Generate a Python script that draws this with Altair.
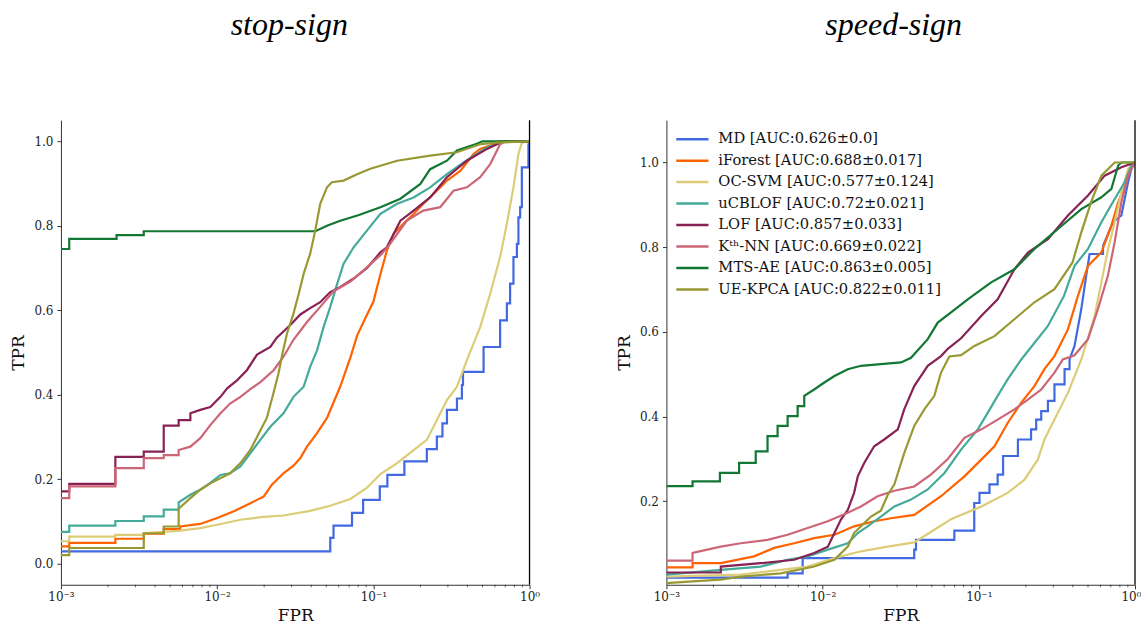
import altair as alt
import pandas as pd

METHODS = [
    "MD [AUC:0.626±0.0]",
    "iForest [AUC:0.688±0.017]",
    "OC-SVM [AUC:0.577±0.124]",
    "uCBLOF [AUC:0.72±0.021]",
    "LOF [AUC:0.857±0.033]",
    "Kᵗʰ-NN [AUC:0.669±0.022]",
    "MTS-AE [AUC:0.863±0.005]",
    "UE-KPCA [AUC:0.822±0.011]",
]
COLORS = ["#4169e1", "#ff6200", "#ddcc77", "#44aa99", "#882255", "#cc6677", "#117733", "#999933"]

# ---------------- stop-sign (FPR, TPR) ----------------
STOP_MD = [(0.001,0.029),(0.053,0.029),(0.053,0.061),(0.0556,0.061),(0.0556,0.09),(0.073,0.09),(0.073,0.12),
           (0.086,0.12),(0.086,0.151),(0.11,0.151),(0.11,0.183),(0.123,0.183),(0.123,0.21),(0.158,0.21),
           (0.158,0.242),(0.22,0.242),(0.22,0.271),(0.255,0.271),(0.255,0.301),(0.277,0.301),(0.277,0.332),
           (0.296,0.332),(0.296,0.364),(0.343,0.364),(0.343,0.391),(0.369,0.391),(0.369,0.423),(0.375,0.423),
           (0.375,0.454),(0.508,0.454),(0.508,0.513),(0.648,0.513),(0.648,0.576),(0.716,0.576),(0.716,0.616),
           (0.751,0.616),(0.751,0.663),(0.789,0.663),(0.789,0.726),(0.83,0.726),(0.83,0.757),(0.849,0.757),
           (0.849,0.82),(0.871,0.82),(0.871,0.844),(0.893,0.844),(0.893,0.938),(0.984,0.938),(0.984,0.993),
           (1.0,0.993),(1.0,1.0)]
STOP_IFOREST = [(0.001,0.041),(0.00113,0.041),(0.00113,0.049),(0.00223,0.049),(0.00223,0.059),(0.00339,0.059),
                (0.00339,0.071),(0.00455,0.071),(0.00455,0.082),(0.0058,0.082),(0.0058,0.088),(0.0078,0.094),
                (0.01,0.108),(0.0128,0.124),(0.0163,0.143),(0.0199,0.159),(0.0224,0.187),(0.0266,0.214),
                (0.0308,0.232),(0.0341,0.25),(0.0376,0.277),(0.0436,0.309),(0.0505,0.345),(0.0557,0.382),
                (0.0615,0.42),(0.0679,0.466),(0.0713,0.488),(0.0787,0.54),(0.0912,0.59),(0.1,0.62),(0.111,0.685),
                (0.122,0.741),(0.135,0.781),(0.156,0.805),(0.181,0.828),(0.209,0.852),(0.255,0.883),(0.296,0.907),
                (0.36,0.93),(0.438,0.97),(0.483,0.982),(0.588,0.993),(0.648,1.0),(1.0,1.0)]
STOP_OCSVM = [(0.001,0.053),(0.00113,0.053),(0.00113,0.064),(0.00223,0.064),(0.00223,0.068),(0.00339,0.068),
              (0.00339,0.072),(0.0058,0.078),(0.0078,0.084),(0.01,0.092),(0.0141,0.104),(0.019,0.11),
              (0.0266,0.114),(0.0394,0.125),(0.053,0.137),(0.0713,0.153),(0.0912,0.18),(0.111,0.212),
              (0.142,0.238),(0.181,0.269),(0.22,0.293),(0.255,0.34),(0.296,0.387),(0.343,0.419),(0.369,0.45),
              (0.397,0.482),(0.483,0.56),(0.56,0.639),(0.648,0.726),(0.716,0.805),(0.789,0.891),(0.849,0.97),
              (0.893,0.997),(1.0,1.0)]
STOP_UCBLOF = [(0.001,0.075),(0.00113,0.075),(0.00113,0.09),(0.00223,0.09),(0.00223,0.101),(0.00339,0.101),
               (0.00339,0.112),(0.00455,0.112),(0.00455,0.128),(0.00567,0.128),(0.00567,0.145),(0.00674,0.163),
               (0.0078,0.175),(0.00904,0.191),(0.0105,0.21),(0.0121,0.214),(0.0141,0.23),(0.0163,0.261),
               (0.0189,0.293),(0.0219,0.324),(0.0266,0.356),(0.0308,0.395),(0.0358,0.419),(0.0394,0.466),
               (0.0436,0.505),(0.048,0.56),(0.053,0.608),(0.0584,0.66),(0.0645,0.71),(0.0748,0.749),
               (0.0912,0.789),(0.111,0.828),(0.142,0.852),(0.181,0.867),(0.231,0.891),(0.296,0.922),
               (0.378,0.95),(0.534,0.985),(0.618,0.993),(0.698,1.0),(1.0,1.0)]
STOP_LOF = [(0.001,0.171),(0.00113,0.171),(0.00113,0.189),(0.00223,0.189),(0.00223,0.253),(0.00339,0.253),
            (0.00339,0.265),(0.00455,0.265),(0.00455,0.327),(0.00567,0.327),(0.00567,0.34),(0.00674,0.34),
            (0.00674,0.356),(0.0078,0.364),(0.00904,0.371),(0.0105,0.395),(0.0116,0.415),(0.0134,0.434),
            (0.0155,0.458),(0.018,0.495),(0.0219,0.513),(0.0241,0.535),(0.0294,0.565),(0.0341,0.59),
            (0.0394,0.605),(0.0457,0.619),(0.053,0.643),(0.0615,0.655),(0.0748,0.675),(0.0912,0.7),
            (0.111,0.737),(0.122,0.749),(0.149,0.812),(0.181,0.836),(0.231,0.867),(0.296,0.915),
            (0.397,0.954),(0.534,0.982),(0.618,0.993),(0.698,1.0),(1.0,1.0)]
STOP_KNN = [(0.001,0.155),(0.00113,0.155),(0.00113,0.183),(0.00223,0.183),(0.00223,0.226),(0.00339,0.226),
            (0.00339,0.25),(0.00455,0.25),(0.00455,0.257),(0.00567,0.257),(0.00567,0.269),(0.00674,0.277),
            (0.0078,0.297),(0.00904,0.328),(0.0105,0.356),(0.0121,0.379),(0.0141,0.395),(0.0163,0.413),
            (0.0189,0.43),(0.023,0.458),(0.0266,0.49),(0.0308,0.53),(0.0376,0.572),(0.0457,0.608),
            (0.0557,0.645),(0.0713,0.668),(0.0912,0.702),(0.111,0.73),(0.128,0.757),(0.164,0.812),
            (0.209,0.836),(0.268,0.844),(0.326,0.883),(0.397,0.891),(0.483,0.915),(0.56,0.946),
            (0.648,0.993),(0.698,1.0),(1.0,1.0)]
STOP_MTSAE = [(0.001,0.745),(0.00113,0.745),(0.00113,0.769),(0.00227,0.769),(0.00227,0.778),(0.00339,0.778),
              (0.00339,0.787),(0.0425,0.787),(0.0505,0.8),(0.0614,0.812),(0.08,0.825),(0.111,0.844),
              (0.149,0.864),(0.2,0.899),(0.231,0.934),(0.296,0.954),(0.343,0.978),(0.46,0.994),(0.5,1.0),(1.0,1.0)]
STOP_UEKPCA = [(0.001,0.02),(0.00113,0.02),(0.00113,0.037),(0.00339,0.037),(0.00339,0.072),(0.00455,0.072),
               (0.00455,0.088),(0.00567,0.088),(0.00567,0.13),(0.00674,0.155),(0.0078,0.175),(0.00904,0.19),
               (0.0121,0.214),(0.0141,0.238),(0.0163,0.269),(0.018,0.3),(0.0208,0.345),(0.0229,0.403),
               (0.0247,0.45),(0.0261,0.495),(0.028,0.545),(0.0308,0.592),(0.0333,0.639),(0.0358,0.686),
               (0.0394,0.734),(0.0425,0.789),(0.0457,0.852),(0.0505,0.891),(0.0543,0.903),(0.0645,0.907),
               (0.0787,0.922),(0.0957,0.935),(0.142,0.954),(0.231,0.966),(0.343,0.974),(0.483,0.993),
               (0.618,0.997),(1.0,1.0)]

# ---------------- speed-sign (FPR, TPR) ----------------
SPEED_MD = [(0.001,0.02),(0.00597,0.02),(0.00597,0.03),(0.00745,0.03),(0.00745,0.066),(0.0386,0.066),
            (0.0386,0.086),(0.0396,0.086),(0.0396,0.109),(0.0697,0.109),(0.0697,0.131),(0.0935,0.131),
            (0.0935,0.196),(0.101,0.196),(0.101,0.22),(0.117,0.22),(0.117,0.24),(0.132,0.24),(0.132,0.263),
            (0.143,0.263),(0.143,0.307),(0.178,0.307),(0.178,0.346),(0.216,0.346),(0.216,0.37),(0.233,0.37),
            (0.233,0.393),(0.251,0.393),(0.251,0.413),(0.277,0.413),(0.277,0.437),(0.305,0.437),(0.305,0.476),
            (0.354,0.476),(0.354,0.512),(0.381,0.512),(0.381,0.535),(0.41,0.567),(0.453,0.654),(0.487,0.733),
            (0.512,0.784),(0.624,0.784),(0.624,0.803),(0.723,0.859),(0.818,0.875),(0.903,0.954),(0.948,0.985),
            (1.0,1.0)]
SPEED_IFOREST = [(0.001,0.044),(0.00147,0.044),(0.00147,0.054),(0.00223,0.054),(0.00364,0.07),(0.0049,0.09),
                 (0.00658,0.101),(0.00883,0.113),(0.0119,0.121),(0.0159,0.141),(0.0214,0.153),(0.0274,0.16),
                 (0.0386,0.168),(0.0573,0.212),(0.0809,0.259),(0.104,0.299),(0.126,0.33),(0.153,0.385),
                 (0.187,0.433),(0.227,0.472),(0.263,0.512),(0.305,0.543),(0.372,0.606),(0.431,0.685),
                 (0.5,0.756),(0.609,0.788),(0.706,0.851),(0.78,0.906),(0.86,0.946),(0.948,0.993),(1.0,1.0)]
SPEED_OCSVM = [(0.001,0.022),(0.00299,0.027),(0.0054,0.038),(0.00802,0.046),(0.0119,0.066),(0.0176,0.082),
               (0.0261,0.093),(0.0386,0.103),(0.0519,0.133),(0.0664,0.158),(0.104,0.188),(0.153,0.22),
               (0.196,0.251),(0.239,0.299),(0.263,0.346),(0.305,0.393),(0.372,0.456),(0.453,0.535),
               (0.552,0.638),(0.609,0.717),(0.673,0.796),(0.741,0.859),(0.818,0.93),(0.903,0.985),(1.0,1.0)]
SPEED_UCBLOF = [(0.001,0.027),(0.00223,0.038),(0.00402,0.046),(0.00597,0.062),(0.00802,0.07),(0.0108,0.086),
                (0.0145,0.101),(0.0168,0.125),(0.0194,0.141),(0.0236,0.164),(0.0288,0.188),(0.0368,0.204),
                (0.0471,0.228),(0.0603,0.267),(0.077,0.322),(0.0985,0.37),(0.114,0.409),(0.132,0.449),
                (0.153,0.488),(0.187,0.535),(0.277,0.614),(0.351,0.685),(0.41,0.756),(0.5,0.796),(0.609,0.859),
                (0.741,0.914),(0.86,0.954),(0.948,0.993),(1.0,1.0)]
SPEED_LOF = [(0.001,0.032),(0.00223,0.032),(0.00223,0.046),(0.00402,0.054),(0.00658,0.062),(0.00883,0.078),
             (0.0108,0.093),(0.0119,0.125),(0.0131,0.157),(0.0145,0.18),(0.0159,0.22),(0.0168,0.259),
             (0.0185,0.291),(0.0214,0.33),(0.0248,0.346),(0.0303,0.37),(0.0333,0.417),(0.0386,0.472),
             (0.0471,0.52),(0.0573,0.543),(0.0633,0.56),(0.077,0.585),(0.104,0.638),(0.132,0.677),
             (0.169,0.748),(0.207,0.788),(0.277,0.819),(0.372,0.875),(0.5,0.922),(0.639,0.969),
             (0.818,0.989),(0.948,0.997),(1.0,1.0)]
SPEED_KNN = [(0.001,0.06),(0.00147,0.06),(0.00147,0.078),(0.00223,0.093),(0.00299,0.101),(0.00444,0.109),
             (0.00597,0.121),(0.00802,0.137),(0.0108,0.153),(0.0145,0.173),(0.0176,0.188),(0.0225,0.212),
             (0.0288,0.225),(0.0386,0.235),(0.0493,0.263),(0.0633,0.3),(0.0809,0.35),(0.104,0.37),
             (0.132,0.393),(0.169,0.417),(0.207,0.441),(0.251,0.464),(0.305,0.504),(0.345,0.535),
             (0.41,0.545),(0.5,0.583),(0.579,0.654),(0.671,0.733),(0.741,0.812),(0.818,0.906),(0.903,0.969),
             (0.971,0.993),(1.0,1.0)]
SPEED_MTSAE = [(0.001,0.236),(0.00147,0.236),(0.00147,0.247),(0.0022,0.247),(0.0022,0.267),(0.00292,0.267),
               (0.00292,0.291),(0.00373,0.291),(0.00373,0.318),(0.00444,0.318),(0.00444,0.354),(0.00515,0.354),
               (0.00515,0.378),(0.00597,0.378),(0.00597,0.401),(0.00692,0.401),(0.00692,0.425),(0.00763,0.425),
               (0.00763,0.449),(0.00883,0.464),(0.0102,0.48),(0.0119,0.496),(0.0145,0.512),(0.0176,0.52),
               (0.0236,0.524),(0.0318,0.528),(0.0368,0.539),(0.0471,0.583),(0.0546,0.622),(0.0664,0.646),
               (0.085,0.677),(0.12,0.717),(0.169,0.748),(0.227,0.796),(0.321,0.843),(0.453,0.89),(0.609,0.918),
               (0.706,0.938),(0.78,0.993),(0.818,1.0),(1.0,1.0)]
SPEED_UEKPCA = [(0.001,0.007),(0.00147,0.011),(0.00223,0.015),(0.00299,0.022),(0.0054,0.03),(0.00883,0.046),
                (0.0119,0.062),(0.0145,0.093),(0.0159,0.125),(0.0185,0.149),(0.0204,0.164),(0.0236,0.178),
                (0.0261,0.215),(0.0288,0.24),(0.0333,0.314),(0.0386,0.378),(0.0448,0.417),(0.0519,0.449),
                (0.0573,0.504),(0.0633,0.535),(0.0648,0.542),(0.077,0.545),(0.0937,0.567),(0.126,0.59),
                (0.169,0.63),(0.227,0.67),(0.305,0.701),(0.398,0.764),(0.453,0.835),(0.523,0.906),
                (0.609,0.969),(0.741,1.0),(1.0,1.0)]

STOP = [STOP_MD, STOP_IFOREST, STOP_OCSVM, STOP_UCBLOF, STOP_LOF, STOP_KNN, STOP_MTSAE, STOP_UEKPCA]
SPEED = [SPEED_MD, SPEED_IFOREST, SPEED_OCSVM, SPEED_UCBLOF, SPEED_LOF, SPEED_KNN, SPEED_MTSAE, SPEED_UEKPCA]

MAJOR_X = [0.001, 0.01, 0.1, 1.0]
MINOR_X = [m * d for d in (0.001, 0.01, 0.1) for m in range(2, 10)]


def to_df(series):
    rows = []
    for k, (name, pts) in enumerate(zip(METHODS, series)):
        for i, (f, t) in enumerate(pts):
            rows.append({"method": name, "k": k, "idx": i, "fpr": f, "tpr": t})
    return pd.DataFrame(rows)


W, H = 469, 465
FONT = "DejaVu Serif"
XSCALE = alt.Scale(type="log", domain=[0.001, 1.0])
LABEL_EXPR = ("datum.value < 0.005 ? '10⁻³' : datum.value < 0.05 ? '10⁻²' : "
              "datum.value < 0.5 ? '10⁻¹' : '10⁰'")


def panel(series, title, title_dx, ydom, yvals, legend, flush_last):
    df = to_df(series)
    xaxis = dict(values=MAJOR_X, labelExpr=LABEL_EXPR, grid=False, tickSize=4,
                 labelFont=FONT, labelFontSize=12, labelColor="#222", labelPadding=3,
                 titleFont=FONT, titleFontSize=17, titleFontWeight="normal",
                 titleColor="#111", titlePadding=5, domainColor="#333", tickColor="#333",
                 labelFlush=False)
    if flush_last:
        xaxis["labelAlign"] = {"condition": {"test": "datum.value >= 0.5", "value": "right"}, "value": "center"}
        xaxis["labelOffset"] = {"condition": {"test": "datum.value >= 0.5", "value": 6}, "value": 0}
    x = alt.X("fpr:Q", scale=XSCALE, title="FPR", axis=alt.Axis(**xaxis))
    y = alt.Y("tpr:Q", scale=alt.Scale(domain=ydom, nice=False, zero=False), title="TPR",
              axis=alt.Axis(values=yvals, format=".1f", grid=False, tickSize=4,
                            labelFont=FONT, labelFontSize=12, labelColor="#222", labelPadding=4,
                            titleFont=FONT, titleFontSize=17, titleFontWeight="normal",
                            titleColor="#111", titlePadding=6, domainColor="#333", tickColor="#333"))
    color = alt.Color("method:N", scale=alt.Scale(domain=METHODS, range=COLORS), legend=legend)
    lines = alt.Chart(df).mark_line(strokeWidth=2.2, clip=True).encode(
        x=x, y=y, color=color, order=alt.Order("idx:Q"))
    minor = alt.Chart(pd.DataFrame({"fpr": MINOR_X})).mark_rule(color="#333", strokeWidth=0.8).encode(
        x=alt.X("fpr:Q", scale=XSCALE, title="FPR"), y=alt.value(H), y2=alt.value(H + 2.5))
    spine = alt.Chart(pd.DataFrame({"fpr": [1.0]})).mark_rule(color="black", strokeWidth=1.3).encode(
        x=alt.X("fpr:Q", scale=XSCALE, title="FPR"), y=alt.value(0), y2=alt.value(H))
    return alt.layer(lines, minor, spine).properties(
        width=W, height=H,
        title=alt.TitleParams(title, font="Liberation Serif", fontStyle="italic", fontSize=32,
                              fontWeight="normal", color="black", offset=78, anchor="middle",
                              dx=title_dx))


leg = alt.Legend(title=None, orient="none", legendX=17, legendY=10, padding=0,
                 symbolType="M-2.15,0H2.15", symbolSize=225, symbolStrokeWidth=2.5,
                 labelFont=FONT, labelFontSize=14.7, labelColor="#111", rowPadding=5.5,
                 labelOffset=17, labelLimit=400)

left = panel(STOP, "stop-sign", -6, [-0.05, 1.05], [0.0, 0.2, 0.4, 0.6, 0.8, 1.0], None, False)
right = panel(SPEED, "speed-sign", -7, [0.003, 1.1], [0.2, 0.4, 0.6, 0.8, 1.0], leg, True)

chart = alt.hconcat(left, right, spacing=74).resolve_scale(color="independent").resolve_legend(
    color="independent").properties(
    padding={"left": 9, "top": 8, "right": 0, "bottom": 0},
    background="white",
).configure_view(stroke=None)

chart.save("out.html", embed_options={"renderer": "svg", "actions": False})
